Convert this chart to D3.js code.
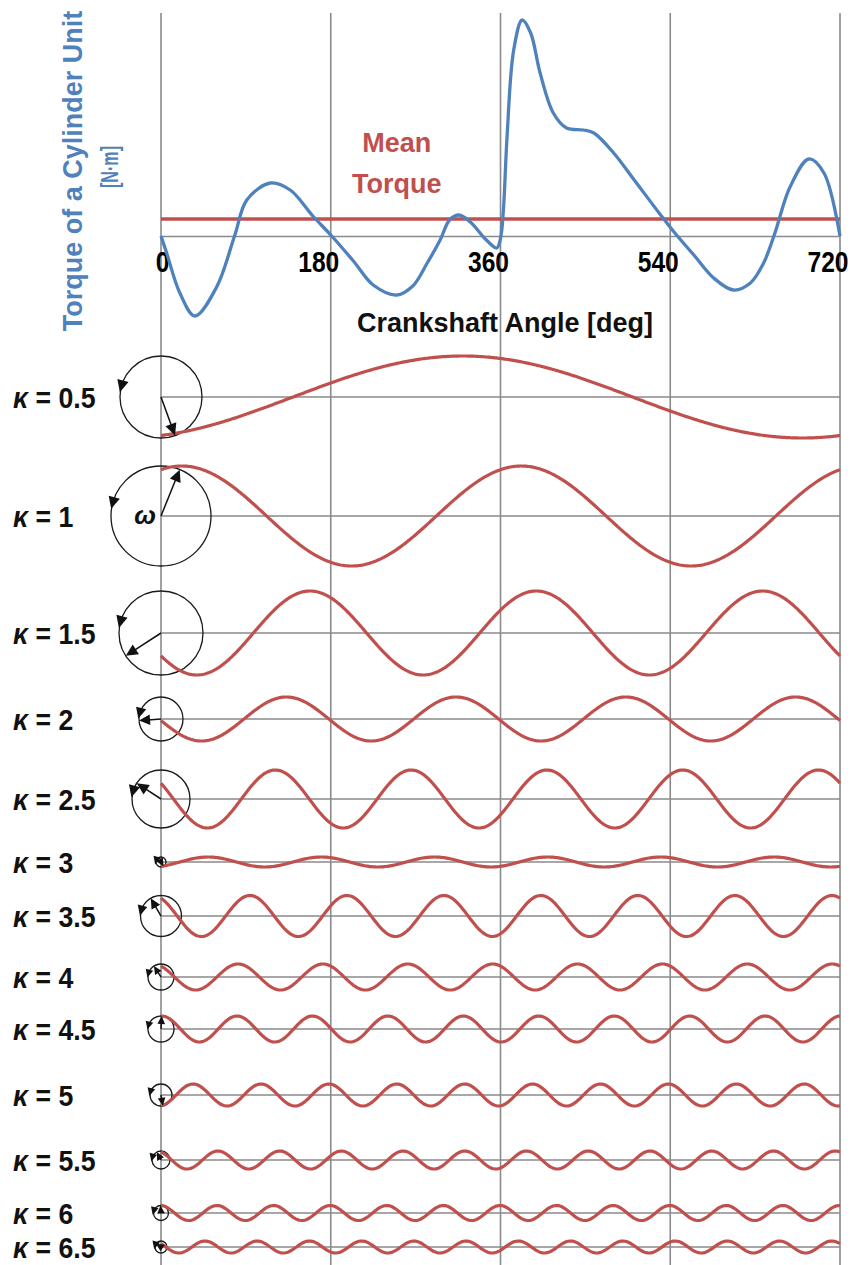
<!DOCTYPE html>
<html>
<head>
<meta charset="utf-8">
<script src="https://cdn.jsdelivr.net/npm/d3@7"></script>
<style>
  html, body { margin: 0; padding: 0; background: #fff; }
  svg { display: block; }
  text { font-family: "Liberation Sans", Arial, Helvetica, sans-serif; font-weight: bold; }
</style>
</head>
<body>
<svg id="chart" width="854" height="1265"></svg>
<script>
// Crankshaft angle ticks [deg]
const angleTicks = [0, 180, 360, 540, 720];

// Torque of one cylinder unit over a full four-stroke cycle [N·m]
const torqueAngle = [0, 6, 20, 36, 59, 78, 91, 116, 137, 161, 181, 204, 225, 250, 267, 282, 296, 306, 316, 328,
  345, 356, 360, 363, 367, 374, 383, 392, 402, 416, 430, 448, 459, 480, 501, 529, 544, 565, 586, 607,
  625, 639, 651, 667, 687, 703, 720];
const torqueValue = [0, -34, -114, -160, -102, 0, 72, 106, 92, 40, 0, -50, -98, -118, -100, -55, -8, 32, 42, 28,
  -8, -24, -5, 50, 200, 372, 432, 406, 326, 246, 216, 212, 206, 166, 114, 44, 8, -38, -84, -108,
  -94, -54, 6, 98, 154, 126, 0];
const meanTorque = 34;

// Harmonic orders κ with their amplitudes [N·m] and phase angles [deg]
const orders = [0.5, 1, 1.5, 2, 2.5, 3, 3.5, 4, 4.5, 5, 5.5, 6, 6.5];
const amplitudes = [82, 100, 84, 44, 58, 10, 41, 26, 26, 22, 18, 15, 12];
const phases = [160, 22, 237, 266, 303, 150, 330, 327, 3, 170, 332, 356, 303];

// ---- layout & styles ----
const W = 854, H = 1265;
const GRID = "#8a8a8a";
const RED = "#c0504d";
const BLUE = "#4f81bd";
const gridTop = 13;

const svg = d3.select("#chart").attr("viewBox", `0 0 ${W} ${H}`);
svg.append("rect").attr("width", W).attr("height", H).attr("fill", "#fff");

const x = d3.scaleLinear().domain([0, 720]).range([161, 840]);
const yTorque = d3.scaleLinear().domain([0, 432]).range([236, 20]);
const amp = d3.scaleLinear().domain([0, 100]).range([0, 50]);
const rowY = d3.scaleOrdinal()
  .domain(orders)
  .range([397, 516, 633, 719, 799, 862, 916, 977, 1029, 1095, 1160, 1213, 1247]);

const harmonics = orders.map((k, i) => ({ k, a: amplitudes[i], phi: phases[i] }));

// vertical grid lines at every 180°
svg.append("g").selectAll("line").data(angleTicks).join("line")
  .attr("x1", d => x(d)).attr("x2", d => x(d))
  .attr("y1", gridTop).attr("y2", H)
  .attr("stroke", GRID).attr("stroke-width", 1.6);

// ---- torque panel ----
const axis = d3.axisBottom(x).tickValues(angleTicks).tickSize(0).tickSizeOuter(0).tickFormat(d3.format("d"));
const gAxis = svg.append("g").attr("transform", `translate(0,${yTorque(0)})`).call(axis);
gAxis.attr("font-family", null).attr("font-size", null);
gAxis.select(".domain").attr("stroke", GRID).attr("stroke-width", 1.6);
const tickScaleX = 0.82;
gAxis.selectAll(".tick text")
  .attr("fill", "#000")
  .attr("font-size", 30)
  .attr("text-anchor", "end")
  .attr("dy", null)
  .attr("y", 36)
  .attr("x", 8 / tickScaleX)
  .attr("transform", `scale(${tickScaleX},1)`);

// mean torque
svg.append("line")
  .attr("x1", x(0)).attr("x2", x(720))
  .attr("y1", yTorque(meanTorque)).attr("y2", yTorque(meanTorque))
  .attr("stroke", RED).attr("stroke-width", 3.4);

const torqueLine = d3.line()
  .x((d, i) => x(torqueAngle[i]))
  .y(d => yTorque(d))
  .curve(d3.curveCatmullRom.alpha(0.5));
svg.append("path")
  .attr("d", torqueLine(torqueValue))
  .attr("fill", "none").attr("stroke", BLUE).attr("stroke-width", 3.3)
  .attr("stroke-linejoin", "round");

svg.append("text").attr("x", x(250)).attr("y", yTorque(168))
  .attr("text-anchor", "middle").attr("font-size", 27).attr("fill", RED).text("Mean");
svg.append("text").attr("x", x(250)).attr("y", yTorque(86))
  .attr("text-anchor", "middle").attr("font-size", 27).attr("fill", RED).text("Torque");

svg.append("text").attr("x", 505).attr("y", 332)
  .attr("text-anchor", "middle").attr("font-size", 27).attr("fill", "#111")
  .text("Crankshaft Angle [deg]");

svg.append("text")
  .attr("transform", "translate(82,171) rotate(-90)")
  .attr("text-anchor", "middle").attr("font-size", 27).attr("fill", BLUE)
  .text("Torque of a Cylinder Unit");
svg.append("text")
  .attr("transform", "translate(118,167) rotate(-90) scale(0.7,1)")
  .attr("text-anchor", "middle").attr("font-size", 23).attr("fill", BLUE)
  .text("[N·m]");

// ---- harmonic components ----
const rows = svg.append("g").selectAll("g").data(harmonics).join("g");

// zero line of every order
rows.append("line")
  .attr("x1", x(0)).attr("x2", x(720))
  .attr("y1", d => rowY(d.k)).attr("y2", d => rowY(d.k))
  .attr("stroke", GRID).attr("stroke-width", 1.6);

// phasor circles
rows.append("circle")
  .attr("cx", x(0)).attr("cy", d => rowY(d.k)).attr("r", d => amp(d.a))
  .attr("fill", "none").attr("stroke", "#1a1a1a").attr("stroke-width", 1.3);

// harmonic waves
const rad = Math.PI / 180;
const samples = d3.range(0, 720.01, 1.5);
rows.append("path")
  .attr("d", d => d3.line()
    .x(t => x(t))
    .y(t => rowY(d.k) - amp(d.a * Math.cos((d.k * t - d.phi) * rad)))(samples))
  .attr("fill", "none").attr("stroke", RED).attr("stroke-width", 3.2);

// arrow heads
function head(tx, ty, ux, uy, len, half) {
  const bx = tx - ux * len, by = ty - uy * len;
  const px = -uy, py = ux;
  return `M${tx},${ty}L${bx + px * half},${by + py * half}L${bx - px * half},${by - py * half}Z`;
}

rows.each(function (d) {
  const g = d3.select(this);
  const cx = x(0), cy = rowY(d.k), r = amp(d.a);
  const len = Math.max(8, Math.min(12, r * 0.5));
  const half = len * 0.48;
  // radius vector at the phase angle
  const ux = Math.sin(d.phi * rad), uy = -Math.cos(d.phi * rad);
  const tx = cx + r * ux, ty = cy + r * uy;
  if (r > len) {
    g.append("line")
      .attr("x1", cx).attr("y1", cy)
      .attr("x2", tx - ux * len * 0.8).attr("y2", ty - uy * len * 0.8)
      .attr("stroke", "#111").attr("stroke-width", 1.5);
  }
  g.append("path").attr("d", head(tx, ty, ux, uy, len, half)).attr("fill", "#111");
  // rotation direction (counterclockwise)
  const psi = 285 * rad;
  const px = cx + r * Math.sin(psi), py = cy - r * Math.cos(psi);
  const vx = -Math.cos(psi), vy = -Math.sin(psi);
  g.append("path")
    .attr("d", head(px + vx * len / 2, py + vy * len / 2, vx, vy, len, half))
    .attr("fill", "#111");
});

// order labels
const labelScaleX = 0.92;
const labels = rows.append("text")
  .attr("transform", d => `translate(13,${rowY(d.k) + 11}) scale(${labelScaleX},1)`)
  .attr("font-size", 29).attr("fill", "#111");
labels.append("tspan").attr("font-style", "italic").text("κ");
labels.append("tspan").text(d => ` = ${d.k}`);

// angular velocity symbol
svg.append("text").attr("x", 156).attr("y", rowY(1) + 8)
  .attr("text-anchor", "end").attr("font-size", 26).attr("font-style", "italic")
  .attr("fill", "#111").text("ω");
</script>
</body>
</html>
